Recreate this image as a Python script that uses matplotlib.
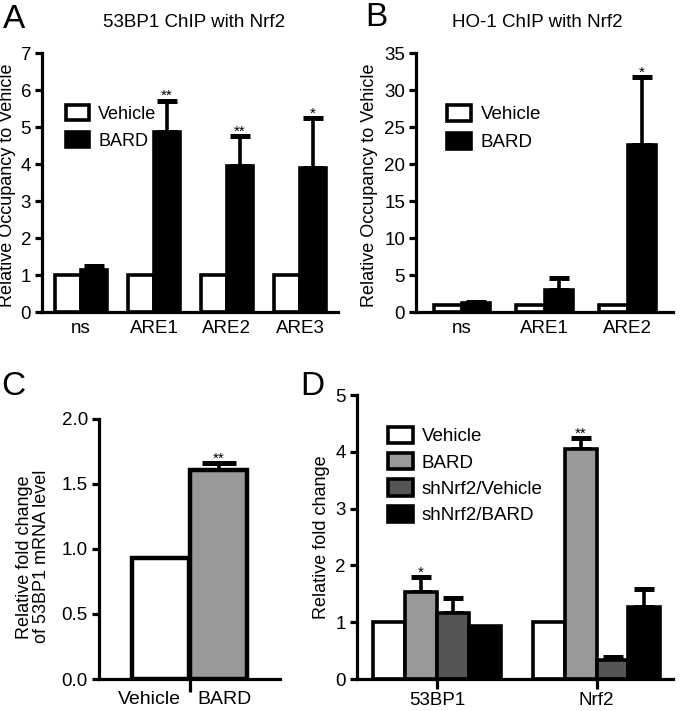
import matplotlib
matplotlib.use("Agg")
import matplotlib.pyplot as plt
import matplotlib.transforms as mtrans
import numpy as np
from matplotlib.patches import Patch

plt.rcParams['font.family'] = ['Liberation Sans', 'DejaVu Sans']

# Panel A: 53BP1 ChIP with Nrf2
a_sites = ["ns", "ARE1", "ARE2", "ARE3"]
a_vehicle = [1.0, 1.0, 1.0, 1.0]
a_bard = [1.15, 4.87, 3.96, 3.9]
a_bard_err = [0.1, 0.85, 0.8, 1.35]
a_stars = ["", "**", "**", "*"]

# Panel B: HO-1 ChIP with Nrf2
b_sites = ["ns", "ARE1", "ARE2"]
b_vehicle = [1.0, 1.0, 1.0]
b_bard = [1.3, 3.0, 22.6]
b_bard_err = [0.1, 1.55, 9.2]
b_stars = ["", "", "*"]

# Panel C: 53BP1 mRNA
c_groups = ["Vehicle", "BARD"]
c_values = [0.93, 1.61]
c_err = [0.0, 0.05]

# Panel D: fold change
d_genes = ["53BP1", "Nrf2"]
d_series = ["Vehicle", "BARD", "shNrf2/Vehicle", "shNrf2/BARD"]
d_values = [[1.0, 1.0], [1.53, 4.05], [1.17, 0.33], [0.93, 1.27]]
d_err = [[0.0, 0.0], [0.27, 0.2], [0.26, 0.05], [0.0, 0.32]]
d_stars = [["", ""], ["*", "**"], ["", ""], ["", ""]]
d_colors = ["white", "#999999", "#555555", "black"]

LW = 2.6
TICK = 13.5
LAB = 13
fig = plt.figure(figsize=(6.8, 7.11), dpi=100)


def style(ax):
    for s in ["top", "right"]:
        ax.spines[s].set_visible(False)
    for s in ["left", "bottom"]:
        ax.spines[s].set_linewidth(2.3)
    ax.tick_params(axis='y', direction='out', length=5, width=2.3, labelsize=TICK, pad=3)
    ax.tick_params(axis='x', length=0, labelsize=TICK, pad=6)


def errbars(ax, x, tops, errs, stars, ymax, cap=7):
    for xi, t, e, s in zip(x, tops, errs, stars):
        if e > 0:
            ax.errorbar(xi, t, yerr=[[0], [e]], fmt='none', ecolor='black',
                        elinewidth=LW, capsize=cap, capthick=LW + 1, zorder=1)
        if s:
            ax.text(xi, t + e - ymax * 0.01, s, ha='center', va='bottom', fontsize=11)


def legend(ax, handles, anchor, spacing, size=13.5):
    ax.legend(handles=handles, loc='upper left', bbox_to_anchor=anchor, frameon=False,
              fontsize=size, handlelength=1.3, handleheight=0.95, handletextpad=0.5,
              labelspacing=spacing, borderaxespad=0)


# ---- A ----
axA = fig.add_axes([0.062, 0.561, 0.435, 0.364])
x = np.arange(len(a_sites))
w = 0.36
axA.bar(x - w / 2, a_vehicle, w, color='white', edgecolor='black', linewidth=LW, zorder=2)
axA.bar(x + w / 2, a_bard, w, color='black', edgecolor='black', linewidth=LW, zorder=2)
errbars(axA, x + w / 2, a_bard, a_bard_err, a_stars, 7)
axA.set_xlim(-0.53, 3.52)
axA.set_ylim(0, 7)
axA.set_yticks(range(0, 8))
axA.set_xticks(x)
axA.set_xticklabels(a_sites)
axA.set_ylabel("Relative Occupancy to Vehicle", fontsize=LAB)
axA.yaxis.set_label_coords(-0.09, 0.49)
style(axA)
legend(axA, [Patch(facecolor='white', edgecolor='black', linewidth=LW, label='Vehicle'),
             Patch(facecolor='black', edgecolor='black', linewidth=LW, label='BARD')],
       (0.055, 0.83), 0.5, size=13)

# ---- B ----
axB = fig.add_axes([0.612, 0.561, 0.378, 0.364])
x = np.arange(len(b_sites))
w = 0.34
axB.bar(x - w / 2, b_vehicle, w, color='white', edgecolor='black', linewidth=LW, zorder=2)
axB.bar(x + w / 2, b_bard, w, color='black', edgecolor='black', linewidth=LW, zorder=2)
errbars(axB, x + w / 2, b_bard, b_bard_err, b_stars, 35)
axB.set_xlim(-0.55, 2.55)
axB.set_ylim(0, 35)
axB.set_yticks(range(0, 36, 5))
axB.set_xticks(x)
axB.set_xticklabels(b_sites)
axB.set_ylabel("Relative Occupancy to Vehicle", fontsize=LAB)
axB.yaxis.set_label_coords(-0.148, 0.49)
style(axB)
legend(axB, [Patch(facecolor='white', edgecolor='black', linewidth=LW, label='Vehicle'),
             Patch(facecolor='black', edgecolor='black', linewidth=LW, label='BARD')],
       (0.09, 0.83), 0.5)

# ---- C ----
axC = fig.add_axes([0.1456, 0.045, 0.2664, 0.366])
x = np.arange(len(c_groups))
axC.bar(x, c_values, 0.97, color=['white', '#999999'], edgecolor='black', linewidth=LW + 0.6, zorder=2)
errbars(axC, x, c_values, c_err, ["", "**"], 2.0, cap=12)
axC.set_xlim(-1.05, 2.05)
axC.set_ylim(0, 2.0)
axC.set_yticks([0, 0.5, 1.0, 1.5, 2.0])
axC.set_yticklabels(["0.0", "0.5", "1.0", "1.5", "2.0"])
axC.set_xticks([0.5])
axC.set_xticklabels([])
trans = mtrans.blended_transform_factory(axC.transData, axC.transAxes)
axC.text(0.36, -0.045, c_groups[0], transform=trans, ha='right', va='top', fontsize=14)
axC.text(0.64, -0.045, c_groups[1], transform=trans, ha='left', va='top', fontsize=14)
axC.set_ylabel("Relative fold change\nof 53BP1 mRNA level", fontsize=LAB, linespacing=1.0)
axC.yaxis.set_label_coords(-0.27, 0.47)
style(axC)
axC.tick_params(axis='x', direction='out', length=9, width=2.3)

# ---- D ----
axD = fig.add_axes([0.525, 0.045, 0.465, 0.3994])
x = np.arange(len(d_genes))
w = 0.2
offs = [-0.3, -0.1, 0.1, 0.3]
handles = []
for vals, errs, stars, col, off, lab in zip(d_values, d_err, d_stars, d_colors, offs, d_series):
    axD.bar(x + off, vals, w, color=col, edgecolor='black', linewidth=LW, zorder=2)
    errbars(axD, x + off, vals, errs, stars, 5, cap=7)
    handles.append(Patch(facecolor=col, edgecolor='black', linewidth=LW, label=lab))
axD.set_xlim(-0.5, 1.48)
axD.set_ylim(0, 5)
axD.set_yticks(range(0, 6))
axD.set_xticks(x)
axD.set_xticklabels(d_genes)
axD.set_ylabel("Relative fold change", fontsize=LAB)
axD.yaxis.set_label_coords(-0.085, 0.5)
style(axD)
axD.tick_params(axis='x', direction='out', length=7, width=2.3, labelsize=13.5, pad=2)
legend(axD, handles, (0.075, 0.915), 0.42)

# titles and panel letters
fig.text(0.285, 0.968, "53BP1 ChIP with Nrf2", ha='center', va='center', fontsize=13.5)
fig.text(0.79, 0.968, "HO-1 ChIP with Nrf2", ha='center', va='center', fontsize=13.5)
fig.text(0.004, 0.972, "A", ha='left', va='center', fontsize=24)
fig.text(0.537, 0.975, "B", ha='left', va='center', fontsize=24)
fig.text(0.002, 0.457, "C", ha='left', va='center', fontsize=24)
fig.text(0.442, 0.457, "D", ha='left', va='center', fontsize=24)

fig.savefig("out.png", dpi=100)
